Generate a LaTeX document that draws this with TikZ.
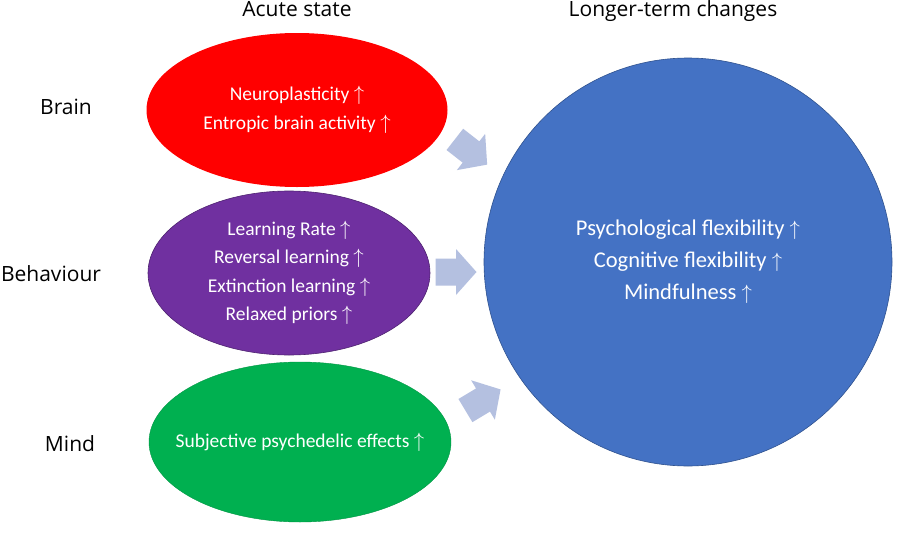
\documentclass[tikz,border=0pt]{standalone}
\usepackage{fontspec}
\setmainfont{Carlito}
\newfontfamily\hdrfont{Open Sans}
\usetikzlibrary{shapes.geometric}
\newcommand\uparr{\ensuremath{\uparrow}}
\definecolor{cred}{HTML}{FF0000}
\definecolor{cpurple}{HTML}{7030A0}
\definecolor{cgreen}{HTML}{00B050}
\definecolor{cblue}{HTML}{4472C4}
\definecolor{cblueline}{HTML}{2F528F}
\definecolor{carrow}{HTML}{B4C0E0}
\tikzset{
  ell/.style={ellipse, inner sep=0pt},
  inner/.style={text=white, align=center, font=\fontsize{19.5}{28.5}\selectfont},
  hdr/.style={anchor=base, font=\hdrfont\fontsize{21}{24}\selectfont, text=black},
  blockarrow/.pic={\fill[carrow] (-20.5,-13.5) -- (0,-13.5) -- (0,-23) -- (20.5,0) -- (0,23) -- (0,13.5) -- (-20.5,13.5) -- cycle;}
}
\begin{document}
\begin{tikzpicture}[x=1pt,y=1pt]
\useasboundingbox[fill=white] (0,0) rectangle (898,-536);
% headers
\node[hdr] (acute) at (297,-16) {Acute state};
\node[hdr] (longer) at (673,-16) {Longer-term changes};
% row labels
\node[hdr] (brain) at (66,-114) {Brain};
\node[hdr] (behav) at (51,-281) {Behaviour};
\node[hdr] (mind) at (70,-451) {Mind};
% ellipses
\node[ell, fill=cred, minimum width=301, minimum height=154] (red) at (297,-110) {};
\node[inner] (redtxt) at (red.center) {Neuroplasticity \uparr\\Entropic brain activity \uparr};
\node[ell, fill=cpurple, draw=cpurple!70!black, line width=0.6pt, minimum width=282, minimum height=164] (purple) at (289,-273) {};
\node[inner] (purpletxt) at (purple.center) {Learning Rate \uparr\\Reversal learning \uparr\\Extinction learning \uparr\\Relaxed priors \uparr};
\node[ell, fill=cgreen, draw=cgreen!85!black, line width=0.4pt, minimum width=302, minimum height=160] (green) at (300,-442) {};
\node[inner] (greentxt) at (green.center) {Subjective psychedelic effects \uparr};
% circle
\node[circle, fill=cblue, draw=cblueline, line width=0.6pt, minimum size=408, inner sep=0pt] (blue) at (688,-262) {};
\node[inner, font=\fontsize{22.5}{32}\selectfont] (bluetxt) at (blue.center)
  {Psychological flexibility \uparr\\Cognitive flexibility \uparr\\Mindfulness \uparr};
% block arrows
\pic[rotate=-38] at (471,-152) {blockarrow};
\pic at (456,-272) {blockarrow};
\pic[rotate=31] at (483,-400) {blockarrow};
\end{tikzpicture}
\end{document}
